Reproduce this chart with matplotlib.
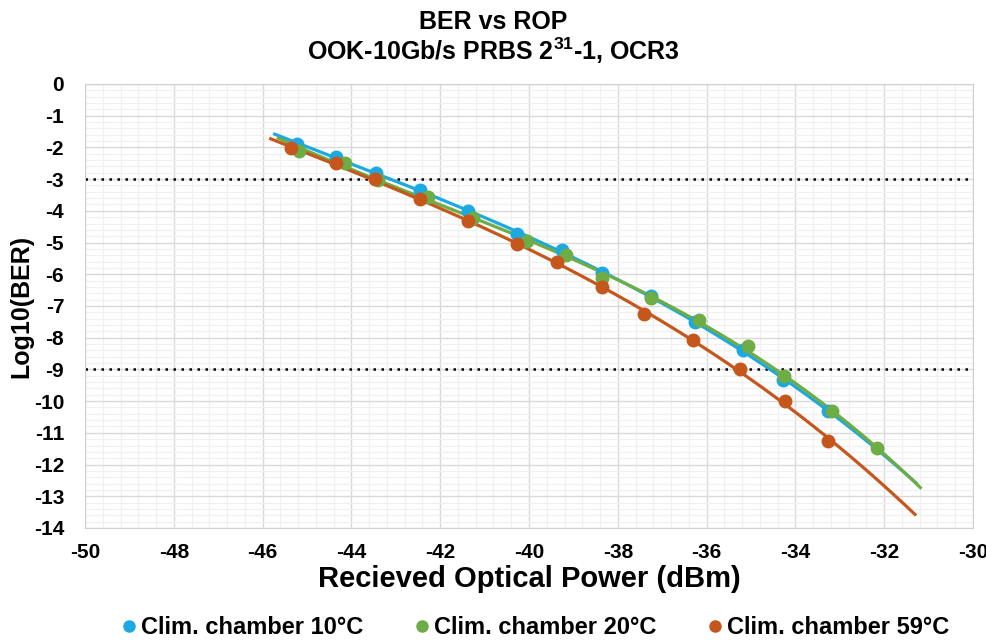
import numpy as np
import matplotlib
matplotlib.use('Agg')
import matplotlib.pyplot as plt
from matplotlib.ticker import MultipleLocator
from matplotlib.lines import Line2D

# Data (received power in dBm, log10 BER)
rop_10c = [-45.23, -44.35, -43.45, -42.45, -41.37, -40.26, -39.25, -38.35,
           -37.26, -36.26, -35.17, -34.27, -33.26]
ber_10c = [-1.89, -2.29, -2.80, -3.34, -4.02, -4.73, -5.24, -5.97,
           -6.69, -7.52, -8.39, -9.32, -10.31]

rop_20c = [-45.17, -44.14, -43.41, -42.27, -41.25, -40.05, -39.17, -38.35,
           -37.26, -36.16, -35.06, -34.26, -33.18, -32.17]
ber_20c = [-2.10, -2.50, -3.04, -3.57, -4.24, -4.94, -5.39, -6.11,
           -6.76, -7.44, -8.27, -9.21, -10.31, -11.49]

rop_59c = [-45.37, -44.35, -43.47, -42.45, -41.37, -40.26, -39.38, -38.36,
           -37.41, -36.31, -35.25, -34.23, -33.27]
ber_59c = [-2.03, -2.50, -3.01, -3.64, -4.33, -5.05, -5.62, -6.41,
           -7.26, -8.08, -9.00, -10.00, -11.25]

# trendline extents (dBm)
trend_range = {'10c': (-45.76, -31.25), '20c': (-45.68, -31.16), '59c': (-45.85, -31.28)}

labels = ['Clim. chamber 10°C', 'Clim. chamber 20°C', 'Clim. chamber 59°C']
colors = ['#1CA9E1', '#6EAD45', '#C5571D']
ber_limits = [-3, -9]

plt.rcParams['font.family'] = ['Liberation Sans', 'DejaVu Sans']
plt.rcParams['font.weight'] = 'bold'
plt.rcParams['axes.unicode_minus'] = False
plt.rcParams['mathtext.fontset'] = 'custom'
plt.rcParams['mathtext.rm'] = 'Liberation Sans'
plt.rcParams['mathtext.bf'] = 'Liberation Sans:bold'

fig = plt.figure(figsize=(9.87, 6.42), dpi=100)
ax = fig.add_axes([0.0861, 0.1776, 0.8997, 0.6916])

series = [(rop_10c, ber_10c, '10c'), (rop_20c, ber_20c, '20c'), (rop_59c, ber_59c, '59c')]
for (x, y, key), col in zip(series, colors):
    # polynomial trendline through the measured points
    coef = np.polyfit(x, y, 3)
    lo, hi = trend_range[key]
    xt = np.linspace(lo, hi, 200)
    ax.plot(xt, np.polyval(coef, xt), color=col, lw=2.3, zorder=3, solid_capstyle='butt')
    ax.plot(x, y, 'o', color=col, ms=9, zorder=4)

for lim in ber_limits:
    ax.axhline(lim, color='black', ls=(0, (1, 2.2)), lw=1.8, zorder=2)

ax.set_xlim(-50, -30)
ax.set_ylim(-14, 0)
ax.xaxis.set_major_locator(MultipleLocator(2))
ax.xaxis.set_minor_locator(MultipleLocator(0.4))
ax.yaxis.set_major_locator(MultipleLocator(1))
ax.yaxis.set_minor_locator(MultipleLocator(0.2))
ax.grid(which='major', color='#D9D9D9', lw=1.0, zorder=0)
ax.grid(which='minor', color='#F0F0F0', lw=0.9, zorder=0)
ax.set_axisbelow(True)
for s in ax.spines.values():
    s.set_color('#D0D0D0')
ax.tick_params(which='both', length=0)
ax.tick_params(axis='x', labelsize=15, pad=11)
ax.tick_params(axis='y', labelsize=15, pad=15)
ax.set_yticks(range(0, -15, -1))
for t in ax.get_xticklabels() + ax.get_yticklabels():
    t.set_fontweight('bold')

ax.set_xlabel('Recieved Optical Power (dBm)', fontsize=21, fontweight='bold', labelpad=2)
ax.set_ylabel('Log10(BER)', fontsize=18, fontweight='bold')
ax.yaxis.set_label_coords(-0.058, 0.5)

fig.text(0.5, 0.965, 'BER vs ROP', ha='center', va='center', fontsize=18, fontweight='bold')
fig.text(0.5, 0.921, r'OOK-10Gb/s PRBS 2$^{\mathbf{31}}$-1, OCR3', ha='center', va='center',
         fontsize=18, fontweight='bold')

handles = [Line2D([], [], marker='o', ls='none', color=c, ms=8) for c in colors]
fig.legend(handles, labels, loc='center', bbox_to_anchor=(0.5405, 0.022), ncol=3, frameon=False,
           prop={'family': ['Liberation Sans Narrow', 'Liberation Sans'], 'weight': 'bold', 'size': 17},
           handletextpad=0.0, columnspacing=2.0, handlelength=1.0)

plt.savefig('out.png', dpi=100)
